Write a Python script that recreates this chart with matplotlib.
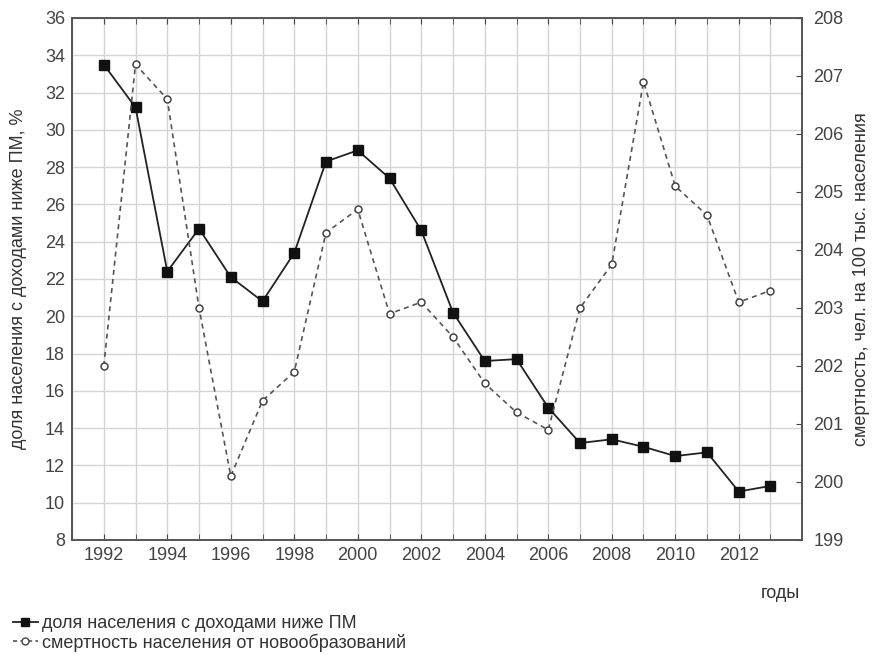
import matplotlib as mpl
mpl.use('Agg')
import matplotlib.pyplot as plt
from matplotlib.ticker import MultipleLocator
from matplotlib.lines import Line2D

plt.rcParams['font.family'] = ['Liberation Sans', 'DejaVu Sans']
plt.rcParams['text.color'] = '#333333'
plt.rcParams['axes.labelcolor'] = '#333333'
plt.rcParams['xtick.color'] = '#444444'
plt.rcParams['ytick.color'] = '#444444'

# годы
years = list(range(1992, 2014))

# доля населения с доходами ниже прожиточного минимума, %
poverty = [33.5, 31.2, 22.4, 24.7, 22.1, 20.8, 23.4, 28.3, 28.9, 27.4, 24.6,
           20.2, 17.6, 17.7, 15.1, 13.2, 13.4, 13.0, 12.5, 12.7, 10.6, 10.9]

# смертность от новообразований, чел. на 100 тыс. населения
mortality = [202.0, 207.2, 206.6, 203.0, 200.1, 201.4, 201.9, 204.3, 204.7,
             202.9, 203.1, 202.5, 201.7, 201.2, 200.9, 203.0, 203.75, 206.9,
             205.1, 204.6, 203.1, 203.3]

lbl_poverty = 'доля населения с доходами ниже ПМ'
lbl_mortality = 'смертность населения от новообразований'

fs = 13

fig = plt.figure(figsize=(8.72, 6.55), dpi=100)
ax = fig.add_axes([0.0826, 0.1756, 0.8374, 0.797])
ax2 = ax.twinx()

ax.plot(years, poverty, '-', color='#222222', lw=1.3, marker='s',
        ms=6.5, mfc='#111111', mec='#111111', zorder=3)
ax2.plot(years, mortality, '--', color='#555555', lw=1.2, dashes=(3, 2.5),
         marker='o', ms=5, mfc='white', mec='#444444', mew=1.1, zorder=3)

ax.set_xlim(1991, 2014)
ax.set_ylim(8, 36)
ax2.set_ylim(199, 208)

ax.xaxis.set_major_locator(MultipleLocator(2))
ax.xaxis.set_minor_locator(MultipleLocator(1))
ax.yaxis.set_major_locator(MultipleLocator(2))
ax2.yaxis.set_major_locator(MultipleLocator(1))

ax.grid(True, which='both', axis='x', color='#d4d4d4', lw=1.0)
ax.grid(True, which='major', axis='y', color='#d4d4d4', lw=1.0)
ax.set_axisbelow(True)

ax.tick_params(axis='x', which='both', direction='in', top=True,
               length=4, labelsize=fs, pad=5)
ax.tick_params(axis='y', which='both', length=0, labelsize=fs, pad=5)
ax2.tick_params(axis='y', direction='in', length=4, labelsize=fs, pad=8)
ax.set_xticks([x for x in range(1992, 2014, 2)])

for a in (ax, ax2):
    for s in a.spines.values():
        s.set_color('#555555')
        s.set_linewidth(1.2)

ax.set_ylabel('доля населения с доходами ниже ПМ, %', fontsize=fs,
              labelpad=13)
ax2.set_ylabel('смертность, чел. на 100 тыс. населения', fontsize=fs,
               labelpad=7)
fig.text(0.918, 0.094, 'годы', fontsize=fs, ha='right', va='center')

handles = [
    Line2D([], [], color='#222222', lw=1.3, marker='s', ms=5.5,
           mfc='#111111', mec='#111111'),
    Line2D([], [], color='#555555', lw=1.2, ls='--', dashes=(2.5, 2),
           marker='o', ms=5, mfc='white', mec='#444444'),
]
fig.legend(handles, [lbl_poverty, lbl_mortality], loc='lower left',
           bbox_to_anchor=(0.0, -0.014), frameon=False, fontsize=fs,
           handlelength=1.4, handletextpad=0.2, labelspacing=0.05,
           borderaxespad=0.3)

fig.savefig('out.png', dpi=100)
